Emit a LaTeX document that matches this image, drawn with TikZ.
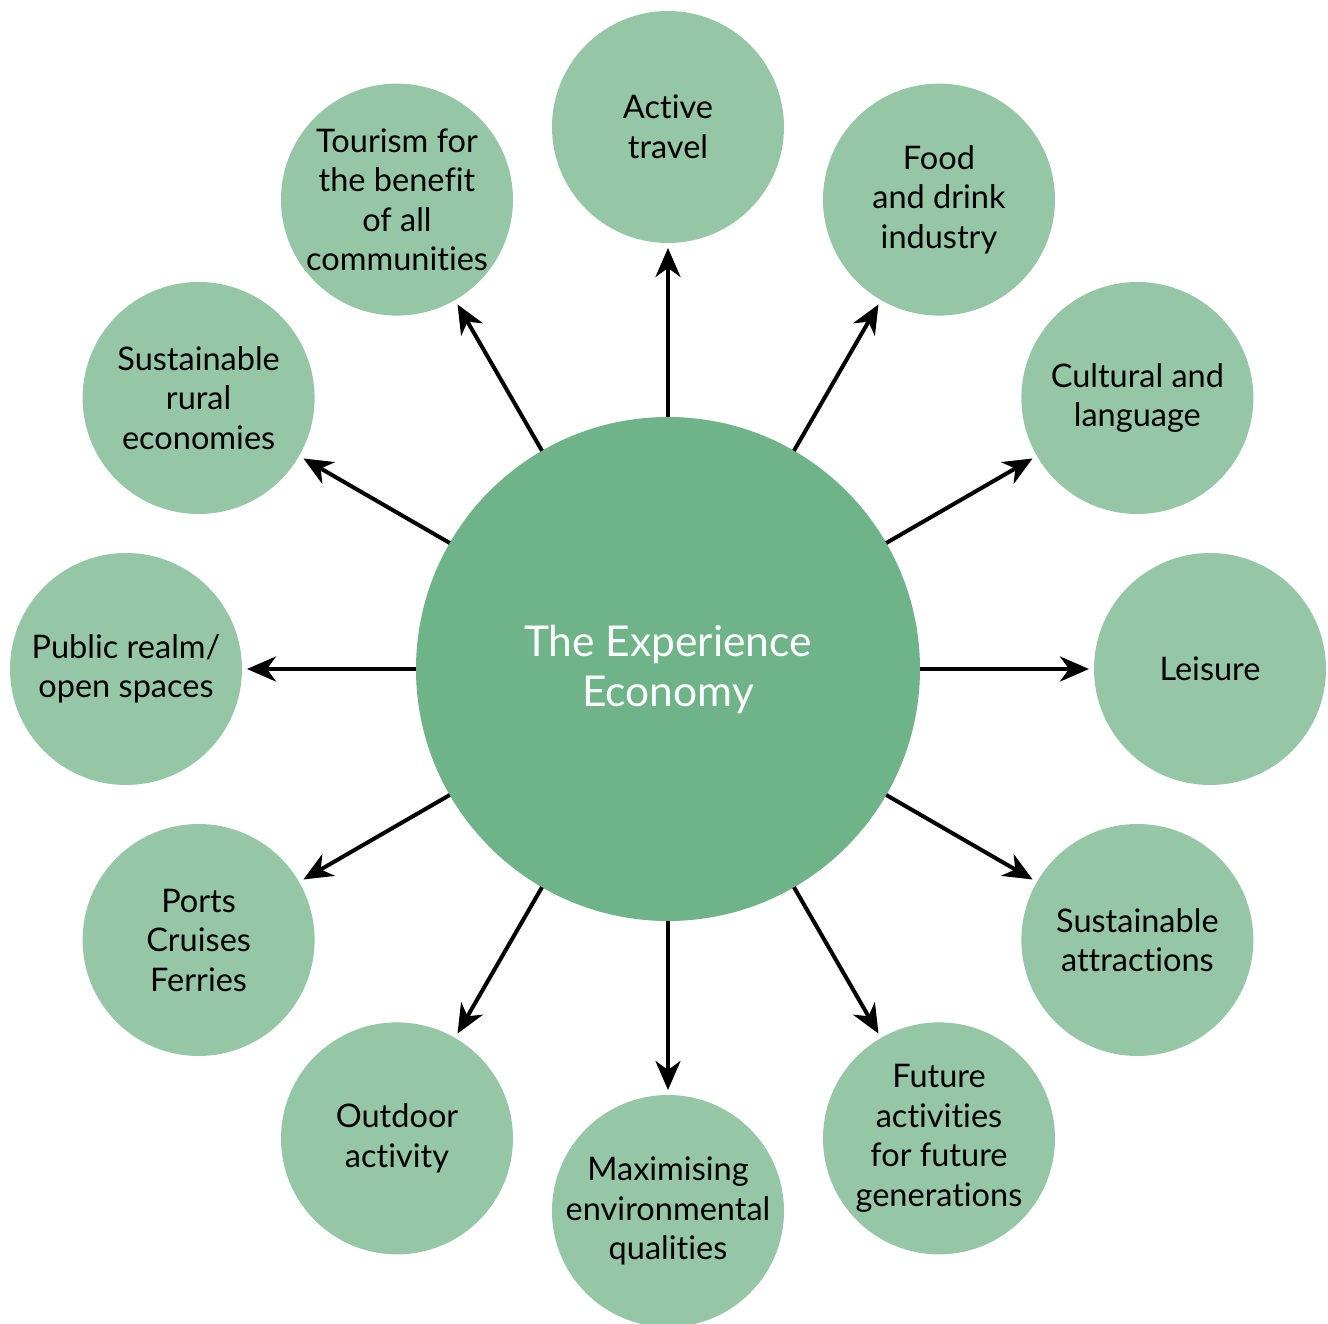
\documentclass[tikz,border=0pt]{standalone}
\usepackage{fontspec}
\setmainfont{Lato}[Ligatures=NoCommon]
\usetikzlibrary{arrows.meta}
\definecolor{outerg}{HTML}{95C6A6}
\definecolor{centerg}{HTML}{6FB488}
\tikzset{
  outer/.style={circle,fill=outerg,minimum size=232pt,inner sep=0pt,outer sep=0pt,
    align=center,font=\fontsize{32.5pt}{39.5pt}\selectfont,text=black},
  hub/.style={circle,fill=centerg,minimum size=504pt,inner sep=0pt,outer sep=0pt,
    align=center,font=\fontsize{42.5pt}{50pt}\selectfont,text=white},
  arr/.style={line width=4pt,-{Stealth[length=29pt,width=25pt,inset=9pt]},shorten >=5pt}
}
\begin{document}
\begin{tikzpicture}[x=1pt,y=1pt]
\useasboundingbox (-668,-655) rectangle (660,669);
\node[hub] (c) at (0,0) {The Experience\\Economy};
\node[outer] (n90) at (90:542) {Active\\travel};
\node[outer] (n60) at (60:542) {Food\\and drink\\industry};
\node[outer] (n30) at (30:542) {Cultural and\\language};
\node[outer] (n0) at (0:542) {Leisure};
\node[outer] (n330) at (-30:542) {Sustainable\\attractions};
\node[outer] (n300) at (-60:542) {Future\\activities\\for future\\generations};
\node[outer] (n270) at (-90:542) {Maximising\\environmental\\qualities};
\node[outer] (n240) at (-120:542) {Outdoor\\activity};
\node[outer] (n210) at (-150:542) {Ports\\Cruises\\Ferries};
\node[outer] (n180) at (180:542) {Public realm/\\open spaces};
\node[outer] (n150) at (150:542) {Sustainable\\rural\\economies};
\node[outer] (n120) at (120:542) {Tourism for\\the benefit\\of all\\communities};
\foreach \a/\b in {90/270,60/240,30/210,0/180,330/150,300/120,270/90,240/60,210/30,180/0,150/330,120/300}{
  \draw[arr] (c.\a) -- (n\a.\b);
}
\end{tikzpicture}
\end{document}
